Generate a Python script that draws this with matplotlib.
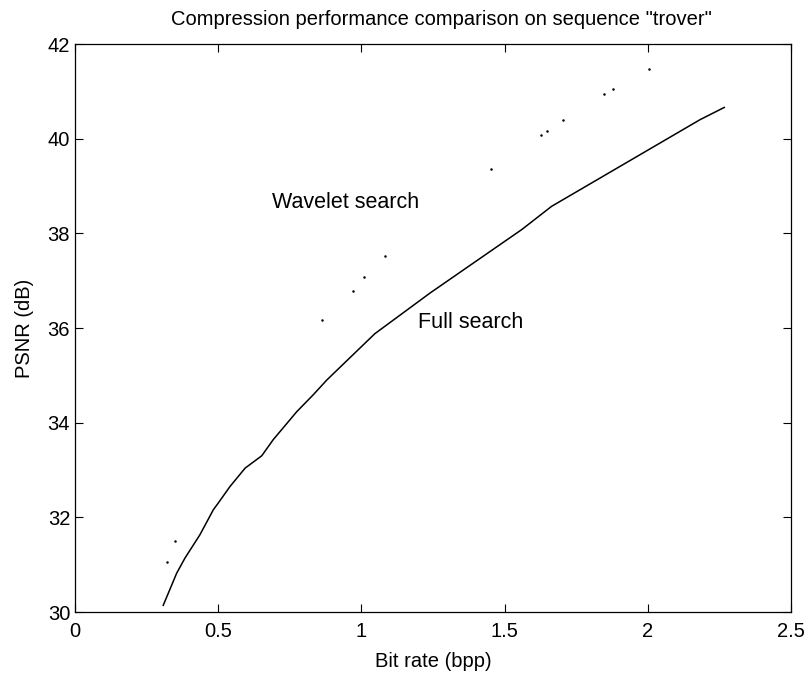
import numpy as np
import matplotlib
matplotlib.use("Agg")
import matplotlib.pyplot as plt

plt.rcParams['font.family'] = ['Liberation Sans', 'DejaVu Sans']

# full search R-D curve
full_rate = [0.308, 0.355, 0.384, 0.436, 0.483, 0.500, 0.541, 0.594, 0.652, 0.692,
             0.774, 0.832, 0.879, 1.047, 1.240, 1.560, 1.664, 2.182, 2.267]
full_psnr = [30.14, 30.82, 31.14, 31.63, 32.16, 32.30, 32.65, 33.04, 33.30, 33.64,
             34.23, 34.59, 34.90, 35.88, 36.74, 38.08, 38.57, 40.40, 40.66]

# wavelet search R-D samples
wav_rate = [0.320, 0.349, 0.863, 0.970, 1.010, 1.083, 1.453, 1.626, 1.647, 1.705,
            1.847, 1.877, 2.004]
wav_psnr = [31.06, 31.49, 36.17, 36.79, 37.08, 37.53, 39.36, 40.08, 40.17, 40.40,
            40.94, 41.05, 41.48]

xticks = [0, 0.5, 1, 1.5, 2, 2.5]
yticks = [30, 32, 34, 36, 38, 40, 42]

fig = plt.figure(figsize=(8.12, 6.73), dpi=100)
ax = fig.add_axes([75/812, 1 - 612/673, 716/812, 568/673])

ax.plot(full_rate, full_psnr, color='black', linewidth=1.1)
ax.plot(wav_rate, wav_psnr, linestyle='none', marker='.', markersize=1.6, color='black')

ax.text(0.688, 38.65, "Wavelet search", fontsize=15.5, va='center', ha='left')
ax.text(1.198, 36.12, "Full search", fontsize=15.5, va='center', ha='left')

ax.set_xlim(0, 2.5)
ax.set_ylim(30, 42)
ax.set_xticks(xticks)
ax.set_xticklabels(["0", "0.5", "1", "1.5", "2", "2.5"])
ax.set_yticks(yticks)
ax.tick_params(direction='in', top=True, right=True, labelsize=14.5, length=6, width=0.8)
ax.tick_params(axis='x', pad=7)
for s in ax.spines.values():
    s.set_linewidth(0.9)

ax.set_xlabel("Bit rate (bpp)", fontsize=14.5, labelpad=8)
ax.set_ylabel("PSNR (dB)", fontsize=14.5, labelpad=10)
ax.set_title('Compression performance comparison on sequence "trover"', fontsize=14.5, pad=14, x=0.512)

plt.savefig("out.png", dpi=100)
